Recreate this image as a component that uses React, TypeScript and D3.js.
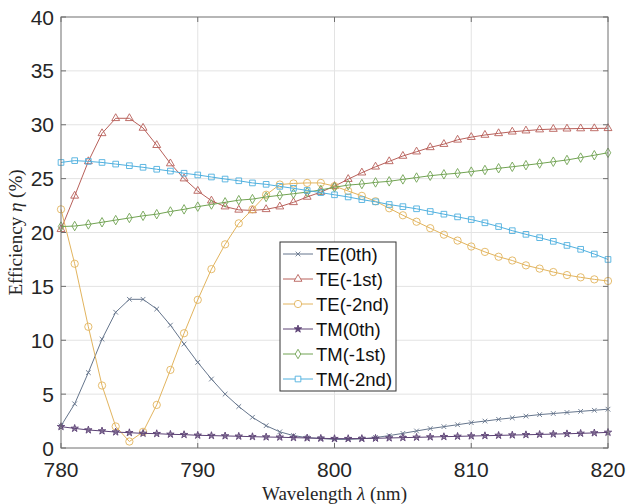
import React, { useEffect, useRef } from "react";
import * as d3 from "d3";

// wavelength samples (nm)
const wavelength = [
  780, 781, 782, 783, 784, 785, 786, 787, 788, 789, 790, 791, 792, 793, 794, 795, 796, 797, 798, 799, 800,
  801, 802, 803, 804, 805, 806, 807, 808, 809, 810, 811, 812, 813, 814, 815, 816, 817, 818, 819, 820,
];

const te0 = [
  2.05, 4.1, 7.0, 10.1, 12.6, 13.8, 13.8, 12.9, 11.4, 9.65, 7.95, 6.4, 5.0, 3.85, 2.85, 2.07, 1.5, 1.15, 0.96, 0.88, 0.8,
  0.8, 0.85, 0.97, 1.15, 1.36, 1.58, 1.8, 1.98, 2.16, 2.35, 2.5, 2.66, 2.8, 2.96, 3.1, 3.2, 3.3, 3.4, 3.5, 3.6,
];
const te1 = [
  20.3, 23.4, 26.6, 29.2, 30.6, 30.6, 29.7, 28.1, 26.4, 25.0, 23.85, 22.95, 22.4, 22.1, 22.05, 22.15, 22.4, 22.8, 23.3, 23.75, 24.3,
  24.95, 25.55, 26.1, 26.6, 27.1, 27.5, 27.9, 28.2, 28.6, 28.85, 29.05, 29.2, 29.35, 29.45, 29.55, 29.6, 29.63, 29.65, 29.66, 29.67,
];
const te2 = [
  22.15, 17.1, 11.25, 5.8, 2.0, 0.6, 1.5, 4.0, 7.25, 10.65, 13.75, 16.6, 18.9, 20.85, 22.15, 23.5, 24.45, 24.55, 24.6, 24.6, 24.3,
  23.85, 23.4, 22.9, 22.25, 21.6, 21.0, 20.4, 19.8, 19.25, 18.7, 18.2, 17.75, 17.4, 16.95, 16.65, 16.33, 16.05, 15.84, 15.65, 15.5,
];
const tm0 = [
  1.98, 1.82, 1.67, 1.58, 1.48, 1.42, 1.36, 1.33, 1.27, 1.24, 1.18, 1.15, 1.12, 1.09, 1.05, 1.02, 1.0, 0.96, 0.93, 0.9, 0.87,
  0.87, 0.88, 0.9, 0.93, 0.96, 0.99, 1.02, 1.05, 1.08, 1.11, 1.14, 1.17, 1.2, 1.23, 1.26, 1.29, 1.32, 1.36, 1.4, 1.45,
];
const tm1 = [
  20.55, 20.6, 20.75, 20.95, 21.15, 21.35, 21.55, 21.7, 21.95, 22.15, 22.4, 22.6, 22.8, 23.0, 23.1, 23.3, 23.45, 23.6, 23.75, 23.95, 24.2,
  24.4, 24.5, 24.65, 24.75, 24.93, 25.1, 25.27, 25.4, 25.5, 25.65, 25.8, 25.96, 26.1, 26.25, 26.4, 26.57, 26.73, 26.95, 27.17, 27.4,
];
const tm2 = [
  26.5, 26.67, 26.6, 26.5, 26.35, 26.2, 26.05, 25.87, 25.7, 25.5, 25.34, 25.15, 24.96, 24.8, 24.6, 24.47, 24.28, 24.1, 23.9, 23.7, 23.5,
  23.3, 23.05, 22.85, 22.6, 22.4, 22.2, 21.95, 21.7, 21.45, 21.2, 20.9, 20.55, 20.17, 19.83, 19.52, 19.18, 18.8, 18.44, 18.0, 17.5,
];

const seriesNames = ["TE(0th)", "TE(-1st)", "TE(-2nd)", "TM(0th)", "TM(-1st)", "TM(-2nd)"];
const seriesValues = [te0, te1, te2, tm0, tm1, tm2];

const xTicks = [780, 790, 800, 810, 820];
const yTicks = [0, 5, 10, 15, 20, 25, 30, 35, 40];

// look of each series: colour, marker, marker area, filled?
const styles = [
  { color: "#65758c", symbol: d3.symbolTimes, size: 16, fill: false },
  { color: "#b8605a", symbol: d3.symbolTriangle, size: 27, fill: false },
  { color: "#e2b45e", symbol: d3.symbolCircle, size: 42, fill: false },
  { color: "#5c4275", symbol: d3.symbolStar, size: 17, fill: true },
  { color: "#71a352", symbol: d3.symbolDiamond, size: 26, fill: false },
  { color: "#4fb0df", symbol: d3.symbolSquare, size: 32, fill: false },
];

const App = () => {
  const ref = useRef<SVGSVGElement>(null);

  useEffect(() => {
    const svg = d3.select(ref.current);
    svg.selectAll("*").remove();

    const width = 627;
    const height = 504;
    const margin = { top: 17, right: 19, bottom: 56, left: 61 };
    const x0 = margin.left;
    const x1 = width - margin.right;
    const y0 = height - margin.bottom;
    const y1 = margin.top;

    const x = d3.scaleLinear().domain([780, 820]).range([x0, x1]);
    const y = d3.scaleLinear().domain([0, 40]).range([y0, y1]);

    svg.append("rect").attr("width", width).attr("height", height).attr("fill", "white");

    // grid
    const grid = svg.append("g").attr("stroke", "#e3e3e3").attr("stroke-width", 1);
    xTicks.slice(1, -1).forEach((t) => {
      grid.append("line").attr("x1", x(t)).attr("x2", x(t)).attr("y1", y0).attr("y2", y1);
    });
    yTicks.slice(1, -1).forEach((t) => {
      grid.append("line").attr("x1", x0).attr("x2", x1).attr("y1", y(t)).attr("y2", y(t));
    });

    // series
    const line = d3
      .line<number>()
      .x((d, i) => x(wavelength[i]))
      .y((d) => y(d));

    seriesValues.forEach((vals, k) => {
      const st = styles[k];
      const g = svg.append("g");
      g.append("path")
        .attr("d", line(vals))
        .attr("fill", "none")
        .attr("stroke", st.color)
        .attr("stroke-width", 1);
      const sym = d3.symbol().type(st.symbol).size(st.size);
      g.selectAll("path.m")
        .data(vals)
        .enter()
        .append("path")
        .attr("class", "m")
        .attr("d", sym() as string)
        .attr("transform", (d, i) => `translate(${x(wavelength[i])},${y(d)})`)
        .attr("fill", st.fill ? st.color : "none")
        .attr("fill-opacity", st.fill ? 0.6 : 1)
        .attr("stroke", st.color)
        .attr("stroke-width", 0.9);
    });

    // box with inward ticks
    const axisColor = "#6f6f6f";
    const box = svg.append("g").attr("stroke", axisColor).attr("stroke-width", 1).attr("fill", "none");
    box.append("rect").attr("x", x0).attr("y", y1).attr("width", x1 - x0).attr("height", y0 - y1);
    xTicks.forEach((t) => {
      box.append("line").attr("x1", x(t)).attr("x2", x(t)).attr("y1", y0).attr("y2", y0 - 5);
      box.append("line").attr("x1", x(t)).attr("x2", x(t)).attr("y1", y1).attr("y2", y1 + 5);
    });
    yTicks.forEach((t) => {
      box.append("line").attr("x1", x0).attr("x2", x0 + 5).attr("y1", y(t)).attr("y2", y(t));
      box.append("line").attr("x1", x1).attr("x2", x1 - 5).attr("y1", y(t)).attr("y2", y(t));
    });

    // tick labels
    const tickFont = "'Liberation Sans', Arial, sans-serif";
    svg.selectAll("text.xt")
      .data(xTicks)
      .enter()
      .append("text")
      .attr("class", "xt")
      .attr("x", (d) => x(d))
      .attr("y", y0 + 29)
      .attr("text-anchor", "middle")
      .attr("font-family", tickFont)
      .attr("font-size", 21)
      .attr("fill", "#262626")
      .text((d) => d);
    svg.selectAll("text.yt")
      .data(yTicks)
      .enter()
      .append("text")
      .attr("class", "yt")
      .attr("x", x0 - 7)
      .attr("y", (d) => y(d))
      .attr("dy", "0.36em")
      .attr("text-anchor", "end")
      .attr("font-family", tickFont)
      .attr("font-size", 21)
      .attr("fill", "#262626")
      .text((d) => d);

    // axis titles
    const serif = "'Liberation Serif', 'Times New Roman', serif";
    const xl = svg
      .append("text")
      .attr("x", (x0 + x1) / 2)
      .attr("y", 500)
      .attr("text-anchor", "middle")
      .attr("font-family", serif)
      .attr("font-size", 19)
      .attr("fill", "#262626");
    xl.append("tspan").text("Wavelength ");
    xl.append("tspan").attr("font-style", "italic").text("λ");
    xl.append("tspan").text(" (nm)");

    const yl = svg
      .append("text")
      .attr("transform", `translate(22,${(y0 + y1) / 2}) rotate(-90)`)
      .attr("text-anchor", "middle")
      .attr("font-family", serif)
      .attr("font-size", 19)
      .attr("fill", "#262626");
    yl.append("tspan").text("Efficiency ");
    yl.append("tspan").attr("font-style", "italic").text("η");
    yl.append("tspan").text(" (%)");

    // legend
    const lg = svg.append("g").attr("transform", "translate(280,242)");
    lg.append("rect")
      .attr("width", 116)
      .attr("height", 149)
      .attr("fill", "white")
      .attr("stroke", "#333")
      .attr("stroke-width", 1);
    seriesNames.forEach((name, k) => {
      const st = styles[k];
      const cy = 12 + k * 25;
      lg.append("line")
        .attr("x1", 3)
        .attr("x2", 33)
        .attr("y1", cy)
        .attr("y2", cy)
        .attr("stroke", st.color)
        .attr("stroke-width", 1);
      lg.append("path")
        .attr("d", d3.symbol().type(st.symbol).size(st.size)() as string)
        .attr("transform", `translate(18,${cy})`)
        .attr("fill", st.fill ? st.color : "white")
        .attr("stroke", st.color)
        .attr("stroke-width", 0.9);
      lg.append("text")
        .attr("x", 36)
        .attr("y", cy)
        .attr("dy", "0.36em")
        .attr("font-family", tickFont)
        .attr("font-size", 18.5)
        .attr("fill", "#111")
        .text(name);
    });
  }, []);

  return (
    <svg
      ref={ref}
      width={627}
      height={504}
      style={{ position: "absolute", left: 0, top: 0, display: "block" }}
    />
  );
};

export default App;
